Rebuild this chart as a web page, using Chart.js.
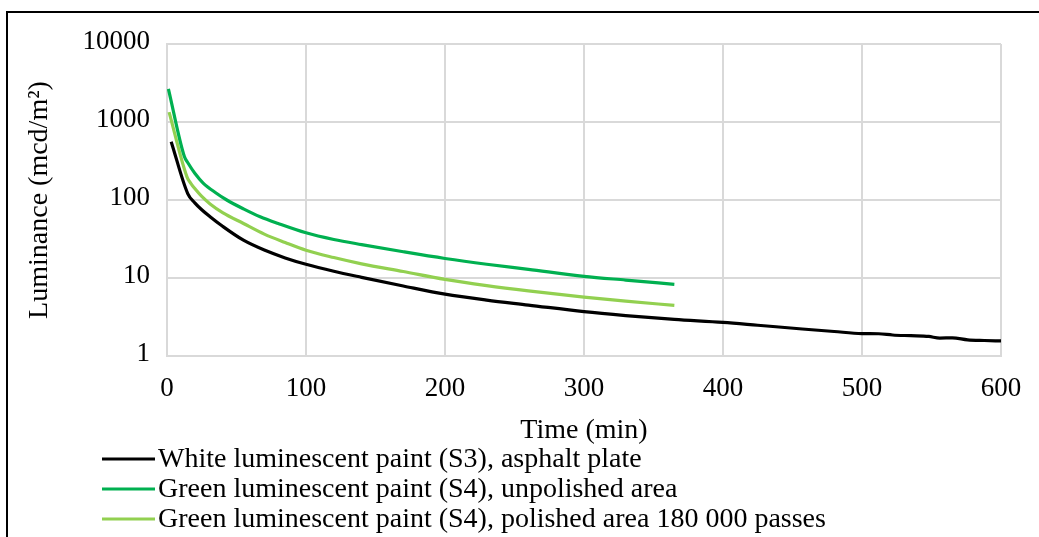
<!DOCTYPE html>
<html>
<head>
<meta charset="utf-8">
<title>Luminance decay</title>
<script src="https://cdn.jsdelivr.net/npm/chart.js@4.4.1/dist/chart.umd.min.js"></script>
<style>
  html, body { margin: 0; padding: 0; background: #fff; }
  #wrap { position: relative; width: 1039px; height: 537px; overflow: hidden; }
</style>
</head>
<body>
<div id="wrap"><canvas id="lumChart" width="1039" height="537"></canvas></div>
<script>
// Values: time in minutes, luminance in mcd/m2
const whiteTime = [3, 15, 20, 25, 31, 40, 55, 70, 85, 100, 120, 140, 170, 200, 230, 260, 300, 330, 365,
                   400, 425, 457, 480, 500, 512, 522, 535, 548, 556, 565, 576, 588, 600];
const whiteLum = [560, 120, 92, 75, 61, 46, 30.5, 22.8, 18.1, 15, 12.2, 10.2, 7.9, 6.2, 5.2, 4.5, 3.7, 3.3, 2.95,
                  2.7, 2.48, 2.22, 2.06, 1.94, 1.93, 1.86, 1.82, 1.78, 1.70, 1.71, 1.61, 1.58, 1.56];

const unpolishedTime = [1, 12.5, 15, 20, 26, 35, 43, 55, 67, 80, 100, 120, 140, 170, 200, 230, 260, 300, 330, 365];
const unpolishedLum = [2660, 360, 300, 220, 165, 124, 100, 77, 61, 50, 38, 31.2, 26.8, 21.7, 17.8, 15, 12.9, 10.5, 9.4, 8.3];

const polishedTime = [1.5, 14.5, 17, 20, 25, 31, 40, 55, 70, 85, 100, 120, 140, 170, 200, 230, 260, 300, 330, 365];
const polishedLum = [1340, 195, 165, 140, 111, 89, 69, 50, 36.5, 28.5, 22.7, 18.3, 15.2, 12.1, 9.6, 8.0, 6.85, 5.7, 5.05, 4.45];

const seriesNames = [
    'White luminescent paint (S3), asphalt plate',
    'Green luminescent paint (S4), unpolished area',
    'Green luminescent paint (S4), polished area 180 000 passes'
];
const seriesColors = ['#000000', '#00b050', '#92d050'];

const lumTicks = [1, 10, 100, 1000, 10000];
const timeTicks = [0, 100, 200, 300, 400, 500, 600];

const FONT = 'Liberation Serif';
const GRID = '#d9d9d9';

function toPoints(times, values) {
    return times.map((t, i) => ({ x: t, y: values[i] }));
}

// Legend and outer frame drawn like the original (left-aligned rows, short line samples)
const legendRows = {
    id: 'legendRows',
    afterDraw(chart) {
        const ctx = chart.ctx;
        ctx.save();
        ctx.strokeStyle = '#000';
        ctx.lineWidth = 2;
        ctx.beginPath();
        ctx.moveTo(7, 537);
        ctx.lineTo(7, 12);
        ctx.lineTo(1039, 12);
        ctx.stroke();

        ctx.font = '28px "' + FONT + '"';
        ctx.textBaseline = 'alphabetic';
        ctx.textAlign = 'left';
        chart.data.datasets.forEach((ds, i) => {
            const y = 459 + i * 30;
            ctx.strokeStyle = ds.borderColor;
            ctx.lineWidth = 3;
            ctx.beginPath();
            ctx.moveTo(102, y);
            ctx.lineTo(155, y);
            ctx.stroke();
            ctx.fillStyle = '#000';
            ctx.fillText(ds.label, 158, y + 8);
        });
        ctx.restore();
    }
};

const datasets = [
    toPoints(whiteTime, whiteLum),
    toPoints(unpolishedTime, unpolishedLum),
    toPoints(polishedTime, polishedLum)
].map((pts, i) => ({
    label: seriesNames[i],
    data: pts,
    borderColor: seriesColors[i],
    backgroundColor: seriesColors[i],
    borderWidth: 3.2,
    pointRadius: 0,
    cubicInterpolationMode: 'monotone',
    fill: false
}));

new Chart(document.getElementById('lumChart'), {
    type: 'line',
    data: { datasets },
    options: {
        responsive: false,
        animation: false,
        layout: { padding: { top: 44, right: 38, bottom: 90, left: 0 } },
        plugins: {
            legend: { display: false },
            tooltip: { enabled: false }
        },
        scales: {
            x: {
                type: 'linear',
                min: 0,
                max: 600,
                afterFit: (s) => { s.height = 91; },
                afterBuildTicks: (s) => { s.ticks = timeTicks.map(v => ({ value: v })); },
                ticks: {
                    font: { family: FONT, size: 27 },
                    color: '#000',
                    padding: 17,
                    maxRotation: 0,
                    autoSkip: false
                },
                grid: { color: GRID, lineWidth: 2, drawTicks: false },
                border: { color: GRID, width: 2 },
                title: {
                    display: true,
                    text: 'Time (min)',
                    font: { family: FONT, size: 28 },
                    color: '#000',
                    padding: { top: 0, bottom: 0 }
                }
            },
            y: {
                type: 'logarithmic',
                min: 1,
                max: 10000,
                afterFit: (s) => { s.width = 167; },
                afterBuildTicks: (s) => { s.ticks = lumTicks.map(v => ({ value: v, major: true })); },
                ticks: {
                    font: { family: FONT, size: 27 },
                    color: '#000',
                    padding: 17,
                    labelOffset: -2,
                    autoSkip: false,
                    callback: (v) => String(v)
                },
                grid: { color: GRID, lineWidth: 2, drawTicks: false },
                border: { color: GRID, width: 2 },
                title: {
                    display: true,
                    text: 'Luminance (mcd/m²)',
                    font: { family: FONT, size: 28 },
                    color: '#000',
                    padding: { top: 23, bottom: 0 }
                }
            }
        }
    },
    plugins: [legendRows]
});
</script>
</body>
</html>
